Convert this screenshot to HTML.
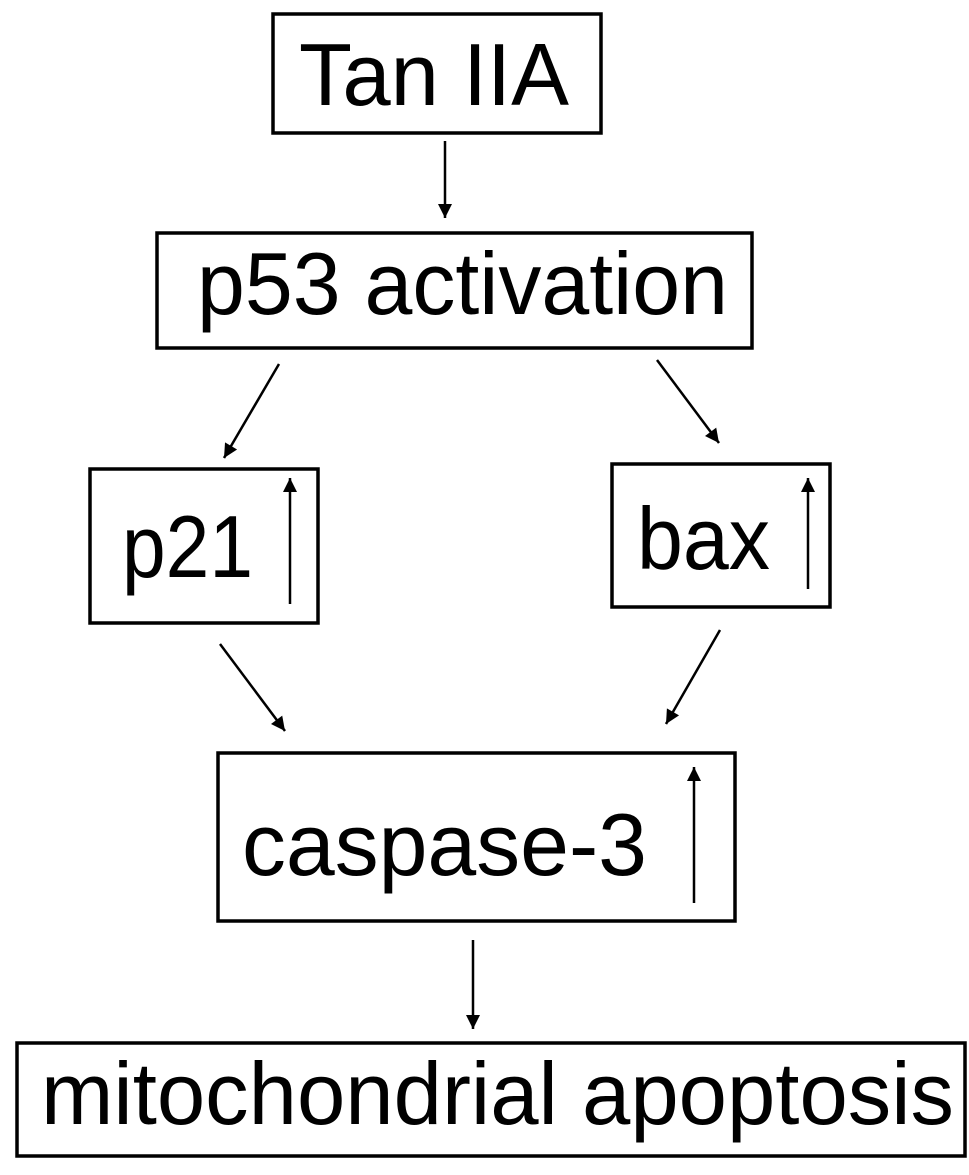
<!DOCTYPE html>
<html><head><style>html,body{margin:0;padding:0;background:#fff;}</style></head>
<body>
<svg width="969" height="1170" viewBox="0 0 969 1170" xmlns="http://www.w3.org/2000/svg">
<defs>
<marker id="ah" markerWidth="8" markerHeight="8" refX="7" refY="4" orient="auto" markerUnits="userSpaceOnUse" viewBox="0 0 8 8">
</marker>
<marker id="a" viewBox="0 0 10 10" refX="10" refY="5" markerWidth="16" markerHeight="14" markerUnits="userSpaceOnUse" orient="auto">
<path d="M0,0 L10,5 L0,10 z" fill="#000"/>
</marker>
</defs>
<g fill="none" stroke="#000" stroke-width="3.5">
<rect x="273" y="14" width="328" height="119"/>
<rect x="157" y="233" width="595" height="115"/>
<rect x="90" y="469" width="228" height="154"/>
<rect x="612" y="464" width="218" height="143"/>
<rect x="218" y="753" width="517" height="168"/>
<rect x="17" y="1043" width="948" height="113"/>
</g>
<g stroke="#000" stroke-width="2.5" marker-end="url(#a)">
<line x1="445" y1="141" x2="445" y2="218"/>
<line x1="279" y1="364" x2="224" y2="458"/>
<line x1="657" y1="360" x2="719" y2="443"/>
<line x1="220" y1="644" x2="285" y2="731"/>
<line x1="720" y1="630" x2="666" y2="724"/>
<line x1="473" y1="940" x2="473" y2="1029"/>
<line x1="290" y1="604" x2="290" y2="478"/>
<line x1="808" y1="589" x2="808" y2="478"/>
<line x1="694" y1="903" x2="694" y2="767"/>
</g>
<g font-family="Liberation Sans, sans-serif" fill="#000" font-size="88">
<text x="299" y="105" textLength="270" lengthAdjust="spacingAndGlyphs">Tan IIA</text>
<text x="197" y="314" textLength="531" lengthAdjust="spacingAndGlyphs">p53 activation</text>
<text x="122" y="577" textLength="131" lengthAdjust="spacingAndGlyphs">p21</text>
<text x="637" y="569" textLength="133" lengthAdjust="spacingAndGlyphs">bax</text>
<text x="242" y="875" textLength="405" lengthAdjust="spacingAndGlyphs">caspase-3</text>
<text x="41" y="1124" textLength="913" lengthAdjust="spacingAndGlyphs">mitochondrial apoptosis</text>
</g>
</svg>
</body></html>
